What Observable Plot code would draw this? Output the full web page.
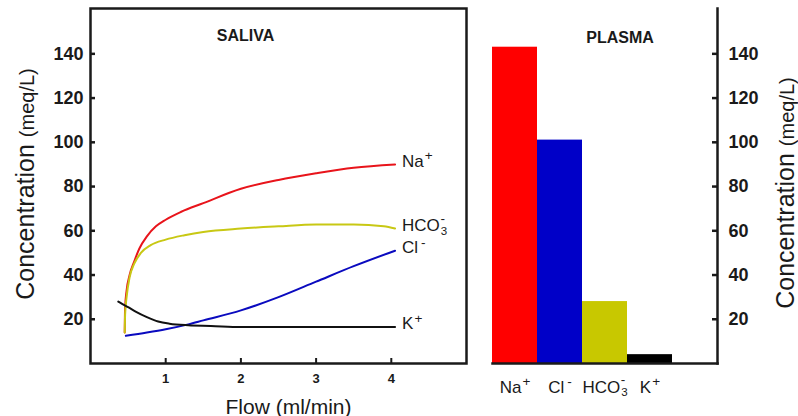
<!DOCTYPE html>
<html>
<head>
<meta charset="utf-8">
<script src="https://cdn.jsdelivr.net/npm/d3@7"></script>
<script src="https://cdn.jsdelivr.net/npm/@observablehq/plot@0.6"></script>
<style>
  html, body { margin: 0; padding: 0; background: #fff; }
  #chart { position: relative; width: 798px; height: 416px; overflow: hidden; }
  #chart > div { position: absolute; top: 0; }
</style>
</head>
<body>
<div id="chart">
  <div id="saliva" style="left:0"></div>
  <div id="plasma" style="left:470px"></div>
</div>
<script>
// Ion names (sign and subscript are typeset after rendering)
const ions = ["Na+", "Cl-", "HCO3-", "K+"];

// Saliva concentrations (meq/L) against flow rate (ml/min)
const naFlow   = [0.455, 0.46, 0.48, 0.52, 0.58, 0.65, 0.75, 0.87, 1.0, 1.2, 1.5, 2.0, 2.5, 3.0, 3.5, 4.05];
const naConc   = [14, 25, 33, 40, 46, 52, 57.5, 62, 65, 68.5, 72.5, 79, 83, 86, 88.5, 90];
const hco3Flow = [0.455, 0.46, 0.48, 0.52, 0.58, 0.67, 0.8, 1.0, 1.25, 1.5, 2.0, 2.5, 3.0, 3.5, 3.9, 4.05];
const hco3Conc = [14, 22, 30, 39, 45, 50, 53.5, 56, 58, 59.5, 61, 62, 62.8, 62.8, 62, 61];
const clFlow   = [0.47, 0.75, 1.0, 1.3, 1.5, 2.0, 2.5, 3.0, 3.5, 4.05];
const clConc   = [12.5, 14, 15.5, 17.7, 19.5, 24, 30, 37, 44, 51];
const kFlow    = [0.37, 0.42, 0.5, 0.6, 0.75, 0.9, 1.05, 1.3, 1.6, 2.0, 3.0, 4.05];
const kConc    = [28, 27, 25.5, 23.5, 21, 19, 18, 17.3, 17, 16.5, 16.5, 16.5];

// Plasma concentrations (meq/L), same order as ions
const plasmaConc = [143, 101, 28, 4];

// Axis ticks
const concTicks = [20, 40, 60, 80, 100, 120, 140];
const flowTicks = [1, 2, 3, 4];

// Colours
const lineColors = ["#e8141b", "#0a0abf", "#c8c814", "#111111"];
const barColors  = ["#ff0000", "#0000c8", "#c8c800", "#000000"];

const font = '"Liberation Sans", Arial, Helvetica, sans-serif';
const ink = "#1a1a1a";
const yDomain = [0, 160.5];

const series = [
  [ions[0], naFlow, naConc],
  [ions[1], clFlow, clConc],
  [ions[2], hco3Flow, hco3Conc],
  [ions[3], kFlow, kConc]
];
const curves = series.flatMap(([ion, fx, cy]) => fx.map((f, i) => ({ion, flow: f, conc: cy[i]})));
const endLabels = series.map(([ion, fx, cy]) => ({ion, flow: fx[fx.length - 1], conc: cy[cy.length - 1]}));
const plasma = ions.map((ion, i) => ({ion, conc: plasmaConc[i]}));

const salivaPlot = Plot.plot({
  width: 470, height: 416,
  marginLeft: 90, marginRight: 4, marginTop: 8, marginBottom: 53,
  style: {fontFamily: font, color: ink, background: "transparent", overflow: "visible"},
  x: {domain: [0, 5]},
  y: {domain: yDomain},
  color: {domain: ions, range: lineColors},
  marks: [
    Plot.frame({stroke: ink, strokeWidth: 2.5}),
    Plot.axisY(concTicks, {anchor: "left", tickSize: -5, tickPadding: 12, strokeWidth: 2.5,
      fontSize: 18, fontWeight: "bold", label: null}),
    Plot.axisX(flowTicks, {anchor: "bottom", tickSize: -5, tickPadding: 15, strokeWidth: 2,
      fontSize: 13, fontWeight: "bold", label: null}),
    Plot.line(curves, {x: "flow", y: "conc", z: "ion", stroke: "ion", curve: "monotone-x", strokeWidth: 2}),
    Plot.text(endLabels, {x: "flow", y: "conc", text: "ion", textAnchor: "start", dx: 7, dy: -3, fontSize: 17}),
    Plot.text(["SALIVA"], {frameAnchor: "top", lineAnchor: "bottom", dx: -33, dy: 32, fontSize: 16, fontWeight: "bold"}),
    Plot.text(["Flow (ml/min)"], {frameAnchor: "bottom", lineAnchor: "bottom", dx: 10, dy: 50, fontSize: 21}),
    Plot.text(["Concentration (meq/L)"], {frameAnchor: "left", rotate: -90, textAnchor: "middle", lineAnchor: "bottom",
      dx: -57, dy: -2, fontSize: 25})
  ]
});

const plasmaPlot = Plot.plot({
  width: 328, height: 416,
  marginLeft: 22, marginRight: 81, marginTop: 8, marginBottom: 53,
  style: {fontFamily: font, color: ink, background: "transparent", overflow: "visible"},
  x: {domain: ions, paddingInner: 0, paddingOuter: 0.5, align: 0},
  y: {domain: yDomain},
  color: {domain: ions, range: barColors},
  marks: [
    Plot.barY(plasma, {x: "ion", y: "conc", fill: "ion"}),
    Plot.frame({anchor: "right", stroke: ink, strokeWidth: 2.5}),
    Plot.frame({anchor: "bottom", stroke: ink, strokeWidth: 2.5}),
    Plot.axisY(concTicks, {anchor: "right", tickSize: -6, tickPadding: 17, strokeWidth: 2.5,
      fontSize: 18, fontWeight: "bold", label: null}),
    Plot.axisX({anchor: "bottom", tickSize: 0, tickPadding: 17, fontSize: 17, label: null}),
    Plot.text(["PLASMA"], {frameAnchor: "top", lineAnchor: "bottom", dx: 15, dy: 34, fontSize: 16, fontWeight: "bold"}),
    Plot.text(["Concentration (meq/L)"], {frameAnchor: "right", rotate: -90, textAnchor: "middle", lineAnchor: "bottom",
      dx: 76, dy: 7, fontSize: 25})
  ]
});

document.getElementById("saliva").append(salivaPlot);
document.getElementById("plasma").append(plasmaPlot);

// Typeset ion charges as superscripts, stoichiometric digits as subscripts,
// and the unit of the concentration label in a smaller size.
function typeset(svg) {
  d3.select(svg).selectAll("text").each(function () {
    const el = d3.select(this);
    const s = this.textContent;
    const ion = s.match(/^([A-Za-z]+?)(\d?)([+-])$/);
    if (ion) {
      const [, base, digit, sign] = ion;
      const fs = parseFloat(getComputedStyle(this).fontSize) || 17;
      el.text(base);
      if (digit) {
        el.append("tspan").attr("font-size", fs * 0.68).attr("dy", fs * 0.22).attr("dx", 1).text(digit);
        el.append("tspan").attr("font-size", fs * 0.8).attr("dx", -fs * 0.4).attr("dy", -fs * 0.7).text("-");
      } else {
        el.append("tspan").attr("font-size", fs * 0.8).attr("dx", sign === "-" ? 3 : 1).attr("dy", -fs * 0.38).text(sign);
      }
      return;
    }
    const unit = s.match(/^(.*) (\(.*\))$/);
    if (unit && unit[2] === "(meq/L)") {
      el.text(unit[1] + " ");
      el.append("tspan").attr("font-size", 20).text(unit[2]);
    }
  });
}
typeset(salivaPlot);
typeset(plasmaPlot);
</script>
</body>
</html>
